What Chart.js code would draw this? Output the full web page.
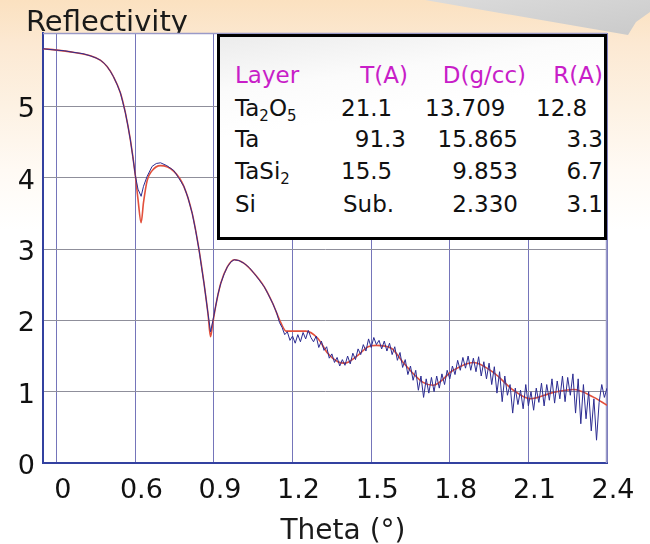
<!DOCTYPE html>
<html lang="en">

<head>
  <meta charset="UTF-8">
  <meta name="viewport" content="width=device-width, initial-scale=1.0">
  <title>X-ray Reflectivity</title>
  <script src="https://cdn.jsdelivr.net/npm/chart.js"></script>
  <style>
    body {
      margin: 0;
      background: #fff;
    }

    #wrap {
      position: relative;
      width: 650px;
      height: 544px;
      overflow: hidden;
      background: linear-gradient(180deg, #fbe1c0 0px, #fce9d3 45px, #fdf2e4 110px, #fffaf4 170px, #ffffff 230px);
    }

    .curl {
      position: absolute;
      left: 0;
      top: 0;
      width: 650px;
      height: 40px;
      background: linear-gradient(170deg, #f2f2f2 0%, #d9d9d9 55%, #c9c9c9 100%);
      clip-path: polygon(425px 0, 650px 0, 650px 12px, 636px 22px, 628px 35px);
    }

    #chartBox {
      position: absolute;
      left: 0;
      top: 0;
      width: 650px;
      height: 544px;
    }

    .layers {
      position: absolute;
      left: 217px;
      top: 34px;
      width: 390px;
      height: 206px;
      box-sizing: border-box;
      border: 3px solid #000;
      background: linear-gradient(172deg, #ececec 0%, #fbfbfb 22%, #ffffff 40%);
    }

    .cell {
      position: absolute;
      font-family: "DejaVu Sans", sans-serif;
      font-size: 23px;
      line-height: 23px;
      color: #111;
      white-space: nowrap;
    }

    .head {
      color: #c81ec8;
    }

    .cell sub {
      font-size: 15px;
      vertical-align: -5px;
      line-height: 0;
    }
  </style>
</head>

<body>
  <div id="wrap">
    <div class="curl"></div>
    <div id="chartBox"><canvas id="xrrChart"></canvas></div>
    <div class="layers"></div>
    <!-- layer table, page coordinates -->
    <span class="cell head" style="left:235px;top:64px">Layer</span>
    <span class="cell head" style="right:242px;top:64px">T(A)</span>
    <span class="cell head" style="right:124px;top:64px">D(g/cc)</span>
    <span class="cell head" style="right:47px;top:64px">R(A)</span>

    <span class="cell" style="left:235px;top:97px">Ta<sub>2</sub>O<sub>5</sub></span>
    <span class="cell" style="left:341px;top:97px">21.1</span>
    <span class="cell" style="left:425px;top:97px">13.709</span>
    <span class="cell" style="left:536px;top:97px">12.8</span>

    <span class="cell" style="left:235px;top:128px">Ta</span>
    <span class="cell" style="right:244px;top:128px">91.3</span>
    <span class="cell" style="right:132px;top:128px">15.865</span>
    <span class="cell" style="right:47px;top:128px">3.3</span>

    <span class="cell" style="left:235px;top:160px">TaSi<sub>2</sub></span>
    <span class="cell" style="left:341px;top:160px">15.5</span>
    <span class="cell" style="right:132px;top:160px">9.853</span>
    <span class="cell" style="right:47px;top:160px">6.7</span>

    <span class="cell" style="left:235px;top:193px">Si</span>
    <span class="cell" style="left:343px;top:193px">Sub.</span>
    <span class="cell" style="right:132px;top:193px">2.330</span>
    <span class="cell" style="right:47px;top:193px">3.1</span>
  </div>

  <script>
    // fitted curve (red)
    var thetaFit = [0.2475, 0.30, 0.362, 0.428, 0.466, 0.492, 0.516, 0.543, 0.562, 0.581, 0.600, 0.610, 0.622,
      0.631, 0.645, 0.664, 0.696, 0.747, 0.785, 0.817, 0.843, 0.862, 0.877, 0.887, 0.895, 0.906, 0.926, 0.951,
      0.977, 1.015, 1.053, 1.092, 1.124, 1.156, 1.175, 1.250, 1.296, 1.334, 1.373, 1.398, 1.449, 1.488, 1.519,
      1.577, 1.622, 1.698, 1.737, 1.813, 1.890, 1.966, 2.043, 2.107, 2.196, 2.273, 2.350, 2.400];
    var reflFit = [5.81, 5.79, 5.76, 5.71, 5.65, 5.56, 5.42, 5.19, 4.91, 4.53, 4.03, 3.70, 3.37,
      3.65, 3.96, 4.10, 4.17, 4.09, 3.88, 3.50, 2.99, 2.52, 2.10, 1.77, 1.95, 2.19, 2.52, 2.75,
      2.85, 2.80, 2.66, 2.47, 2.24, 1.96, 1.85, 1.85, 1.75, 1.54, 1.42, 1.40, 1.51, 1.63, 1.65,
      1.61, 1.41, 1.13, 1.09, 1.30, 1.41, 1.27, 1.02, 0.90, 0.99, 1.03, 0.92, 0.81];

    // measured data (blue)
    var thetaMeas = [0.2475, 0.27, 0.30, 0.33, 0.362, 0.40, 0.428, 0.45, 0.466, 0.48, 0.492, 0.505, 0.516, 0.53,
      0.543, 0.552, 0.562, 0.571, 0.581, 0.59, 0.60, 0.61, 0.622, 0.631, 0.645, 0.664, 0.68, 0.696, 0.72, 0.747,
      0.765, 0.785, 0.80, 0.817, 0.83, 0.843, 0.852, 0.862, 0.87, 0.877, 0.887, 0.895, 0.906, 0.915, 0.926, 0.94,
      0.951, 0.965, 0.977, 0.995, 1.015, 1.035, 1.053, 1.07, 1.092, 1.105, 1.124, 1.14,
      1.15, 1.16, 1.17, 1.18, 1.19, 1.20, 1.21, 1.22, 1.23, 1.24, 1.25, 1.26, 1.27, 1.28, 1.29,
      1.30, 1.31, 1.32, 1.33, 1.34, 1.35, 1.36, 1.37, 1.38, 1.39, 1.40, 1.41, 1.42, 1.43, 1.44,
      1.45, 1.46, 1.47, 1.48, 1.49, 1.50, 1.51, 1.52, 1.53, 1.54, 1.55, 1.56, 1.57, 1.58, 1.59,
      1.60, 1.61, 1.62, 1.63, 1.64, 1.65, 1.66, 1.67, 1.68, 1.69, 1.70, 1.71, 1.72, 1.73, 1.74,
      1.75, 1.76, 1.77, 1.78, 1.79, 1.80, 1.81, 1.82, 1.83, 1.84, 1.85, 1.86, 1.87, 1.88, 1.89,
      1.90, 1.91, 1.92, 1.93, 1.94, 1.95, 1.96, 1.97, 1.98, 1.99, 2.00, 2.01, 2.02, 2.03, 2.04,
      2.05, 2.06, 2.07, 2.08, 2.09, 2.10, 2.11, 2.12, 2.13, 2.14, 2.15, 2.16, 2.17, 2.18, 2.19,
      2.20, 2.21, 2.22, 2.23, 2.24, 2.25, 2.26, 2.27, 2.28, 2.29, 2.30, 2.31, 2.32, 2.33, 2.34,
      2.35, 2.36, 2.37, 2.38, 2.39, 2.40];
    var reflMeas = [5.81, 5.80, 5.79, 5.78, 5.76, 5.74, 5.71, 5.68, 5.65, 5.61, 5.56, 5.49, 5.42, 5.31,
      5.19, 5.06, 4.91, 4.74, 4.53, 4.30, 4.03, 3.84, 3.74, 3.88, 4.02, 4.16, 4.20, 4.21, 4.17, 4.10,
      4.00, 3.88, 3.73, 3.50, 3.26, 2.99, 2.76, 2.52, 2.30, 2.10, 1.84, 1.98, 2.19, 2.36, 2.52, 2.66,
      2.75, 2.82, 2.85, 2.84, 2.80, 2.74, 2.66, 2.58, 2.47, 2.38, 2.24, 2.10,
      1.97, 1.90, 1.80, 1.84, 1.72, 1.78, 1.68, 1.80, 1.70, 1.83, 1.74, 1.86, 1.76, 1.70, 1.78,
      1.62, 1.71, 1.58, 1.63, 1.47, 1.53, 1.41, 1.48, 1.36, 1.45, 1.37, 1.50, 1.39, 1.54, 1.45,
      1.60, 1.52, 1.66, 1.57, 1.74, 1.62, 1.76, 1.66, 1.72, 1.60, 1.71, 1.57, 1.68, 1.52, 1.63,
      1.44, 1.55, 1.34, 1.45, 1.24, 1.36, 1.16, 1.30, 1.02, 1.22, 0.92, 1.18, 0.98, 1.20, 1.00,
      1.22, 1.05, 1.25, 1.10, 1.30, 1.18, 1.36, 1.24, 1.44, 1.30, 1.48, 1.33, 1.50, 1.30, 1.47,
      1.28, 1.49, 1.22, 1.42, 1.18, 1.40, 1.10, 1.35, 0.98, 1.28, 0.86, 1.22, 0.95, 1.10, 0.70,
      1.05, 0.82, 1.02, 0.76, 1.10, 0.80, 1.00, 0.74, 1.05, 0.85, 1.12, 0.80, 1.10, 0.88, 1.18,
      0.84, 1.15, 0.90, 1.22, 0.86, 1.20, 0.95, 1.25, 0.70, 1.18, 0.55, 1.10, 0.62, 1.00, 0.45,
      0.90, 0.32, 0.85, 1.10, 0.92, 1.05];

    var xTickValues = [0.3, 0.6, 0.9, 1.2, 1.5, 1.8, 2.1, 2.4];
    var xTickLabels = ['0', '0.6', '0.9', '1.2', '1.5', '1.8', '2.1', '2.4'];
    var yTickValues = [0, 1, 2, 3, 4, 5];
    var yTickLabels = ['0', '1', '2', '3', '4', '5'];

    function toPoints(xs, ys) {
      return xs.map(function (x, i) { return { x: x, y: ys[i] }; });
    }

    // page background text, white plot area, light top/right frame
    var framePlugin = {
      id: 'frame',
      beforeDraw: function (chart) {
        var ctx = chart.ctx, a = chart.chartArea;
        ctx.save();
        ctx.fillStyle = '#1a1a1a';
        ctx.font = '29px "DejaVu Sans"';
        ctx.textBaseline = 'alphabetic';
        ctx.textAlign = 'left';
        ctx.fillText('Reflectivity', 26, 31);
        ctx.font = '28px "DejaVu Sans"';
        ctx.textAlign = 'center';
        ctx.fillText('Theta (°)', 343, 539);
        ctx.fillStyle = '#ffffff';
        ctx.fillRect(a.left, a.top, a.right - a.left, a.bottom - a.top);
        ctx.restore();
      },
      beforeDatasetsDraw: function (chart) {
        var ctx = chart.ctx, a = chart.chartArea;
        ctx.save();
        ctx.strokeStyle = '#9a9ac8';
        ctx.lineWidth = 1.5;
        ctx.beginPath();
        ctx.moveTo(a.left, a.top + 0.5);
        ctx.lineTo(a.right, a.top + 0.5);
        ctx.moveTo(a.right - 0.5, a.top);
        ctx.lineTo(a.right - 0.5, a.bottom);
        ctx.stroke();
        ctx.restore();
      }
    };

    var ctx = document.getElementById('xrrChart').getContext('2d');
    var xrrChart = new Chart(ctx, {
      type: 'line',
      data: {
        datasets: [{
          label: 'Measured',
          data: toPoints(thetaMeas, reflMeas),
          borderColor: '#2c2c92',
          borderWidth: 1,
          pointRadius: 0,
          tension: 0
        }, {
          label: 'Fit',
          data: toPoints(thetaFit, reflFit),
          borderColor: '#e2503c',
          borderWidth: 1.6,
          pointRadius: 0,
          cubicInterpolationMode: 'monotone'
        }]
      },
      options: {
        responsive: true,
        maintainAspectRatio: false,
        animation: false,
        layout: { padding: { left: 0, top: 33, right: 43, bottom: 0 } },
        plugins: {
          legend: { display: false },
          tooltip: { enabled: false }
        },
        scales: {
          x: {
            type: 'linear',
            min: 0.2475,
            max: 2.4,
            afterBuildTicks: function (scale) {
              scale.ticks = xTickValues.map(function (v) { return { value: v }; });
            },
            afterFit: function (scale) { scale.height = 81; },
            grid: { color: '#7575ba', lineWidth: 1, drawTicks: false },
            border: { color: '#3341a0', width: 2 },
            ticks: {
              autoSkip: false,
              maxRotation: 0,
              padding: 12,
              labelOffset: 6,
              color: '#111',
              font: { family: 'DejaVu Sans', size: 27 },
              callback: function (value) {
                return xTickLabels[xTickValues.indexOf(value)];
              }
            }
          },
          y: {
            min: 0,
            max: 6.03,
            afterBuildTicks: function (scale) {
              scale.ticks = yTickValues.map(function (v) { return { value: v }; });
            },
            afterFit: function (scale) { scale.width = 43; },
            grid: { color: '#8f8f9b', lineWidth: 1, drawTicks: false },
            border: { color: '#3341a0', width: 2 },
            ticks: {
              padding: 8,
              labelOffset: 4,
              color: '#111',
              font: { family: 'DejaVu Sans', size: 27 },
              callback: function (value) {
                return yTickLabels[yTickValues.indexOf(value)];
              }
            }
          }
        }
      },
      plugins: [framePlugin]
    });
  </script>
</body>

</html>
